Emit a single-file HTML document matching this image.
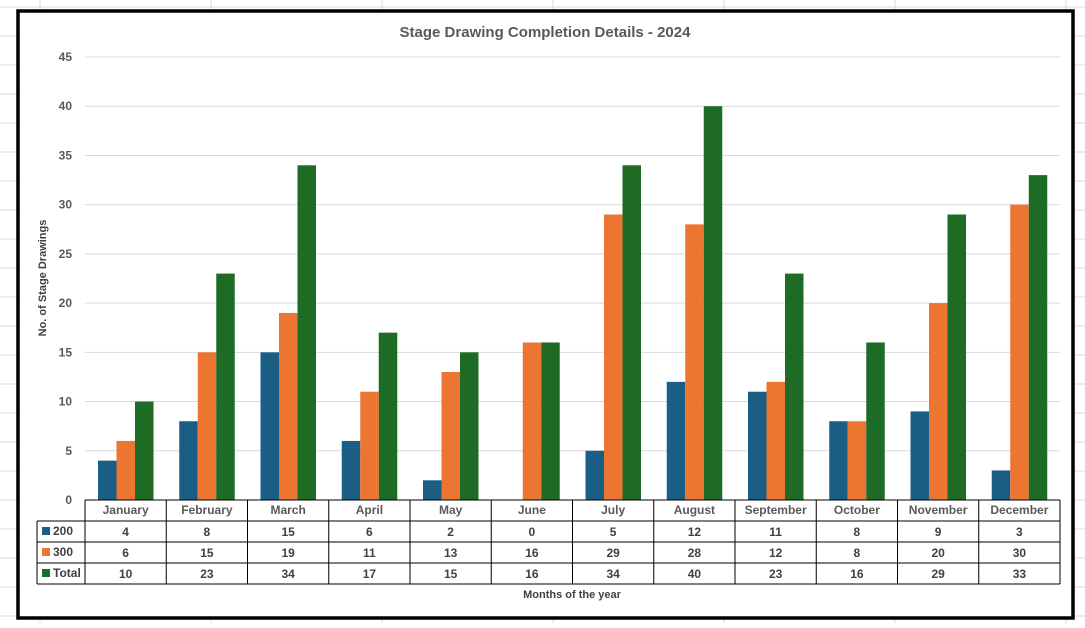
<!DOCTYPE html>
<html><head><meta charset="utf-8"><style>
body{margin:0;width:1085px;height:623px;overflow:hidden;background:#fff;font-family:"Liberation Sans",sans-serif}
</style></head><body>
<svg id="c" width="1085" height="623" xmlns="http://www.w3.org/2000/svg">
<g id="bg"></g>
<rect x="18" y="11" width="1055" height="607" fill="#fff" stroke="#000" stroke-width="3.5"/>
<text x="545" y="37" text-anchor="middle" font-size="15" font-weight="bold" fill="#595959">Stage Drawing Completion Details - 2024</text>
<g id="grid"></g><g id="bars"></g><g id="table"></g>
<text transform="translate(46,278) rotate(-90)" text-anchor="middle" font-size="11" font-weight="bold" fill="#404040">No. of Stage Drawings</text>
<text x="572" y="598" text-anchor="middle" font-size="11" font-weight="bold" fill="#404040">Months of the year</text>
</svg>
<script>
const months=["January","February","March","April","May","June","July","August","September","October","November","December"];
const s200=[4,8,15,6,2,0,5,12,11,8,9,3];
const s300=[6,15,19,11,13,16,29,28,12,8,20,30];
const sTotal=[10,23,34,17,15,16,34,40,23,16,29,33];
const yTicks=[0,5,10,15,20,25,30,35,40,45];
const seriesNames=["200","300","Total"];
const NS="http://www.w3.org/2000/svg";
const X0=85,X1=1060,Y0=500,Y45=57;
const cw=(X1-X0)/months.length;
const y=v=>Y0-(v/45)*(Y0-Y45);
function mk(t,a,p){const e=document.createElementNS(NS,t);for(const k in a)e.setAttribute(k,a[k]);p.appendChild(e);return e;}
const bg=document.getElementById('bg');
for(let gx=40;gx<1085;gx+=171){mk('line',{x1:gx,y1:0,x2:gx,y2:623,stroke:'#d9d9d9'},bg);}
for(let gy=7;gy<623;gy+=29){mk('line',{x1:0,y1:gy,x2:1085,y2:gy,stroke:'#d9d9d9'},bg);}
const grid=document.getElementById('grid');
yTicks.forEach(t=>{
 if(t>0){const l=mk('line',{x1:X0,y1:y(t),x2:X1,y2:y(t),stroke:'#d9d9d9'},grid);
 
 }
 const tx=mk('text',{x:72,y:y(t)+4,'text-anchor':'end','font-size':12,'font-weight':'bold',fill:'#595959'},grid);
 tx.textContent=t;
 
 
});
const colors=["#1a5e85","#ed7532","#1e6b25"];
const series=[s200,s300,sTotal];
const bars=document.getElementById('bars');
const bw=18.5;
months.forEach((m,i)=>{
 series.forEach((s,j)=>{
  const bx=X0+i*cw+13+j*bw;
  const r=mk('rect',{x:bx,y:y(s[i]),width:bw,height:Y0-y(s[i]),fill:colors[j]},bars);
  
  
 });
});
const tb=document.getElementById('table');
const rows=[500,521,542,563,584];
const TL=37;
mk('line',{x1:X0,y1:500,x2:X1,y2:500,stroke:'#000'},tb);
for(let r=1;r<rows.length;r++)mk('line',{x1:TL,y1:rows[r],x2:X1,y2:rows[r],stroke:'#000'},tb);
mk('line',{x1:TL,y1:521,x2:TL,y2:584,stroke:'#000'},tb);
for(let i=0;i<=months.length;i++)mk('line',{x1:X0+i*cw,y1:500,x2:X0+i*cw,y2:584,stroke:'#000'},tb);
months.forEach((m,i)=>{
 const t=mk('text',{x:X0+(i+.5)*cw,y:514,'text-anchor':'middle','font-size':12,'font-weight':'bold',fill:'#595959'},tb);
 t.textContent=m;
 
 
 series.forEach((s,j)=>{
  const v=mk('text',{x:X0+(i+.5)*cw,y:rows[j+1]+15,'text-anchor':'middle','font-size':12,'font-weight':'bold',fill:'#404040'},tb);
  v.textContent=s[i];
  
  
 });
});
seriesNames.forEach((n,j)=>{
 const k=mk('rect',{x:42,y:rows[j+1]+6,width:8,height:8,fill:colors[j]},tb);
 
 
 const t=mk('text',{x:53,y:rows[j+1]+14,'font-size':12,'font-weight':'bold',fill:'#404040'},tb);
 t.textContent=n;
 
 
});
</script>
</body></html>
